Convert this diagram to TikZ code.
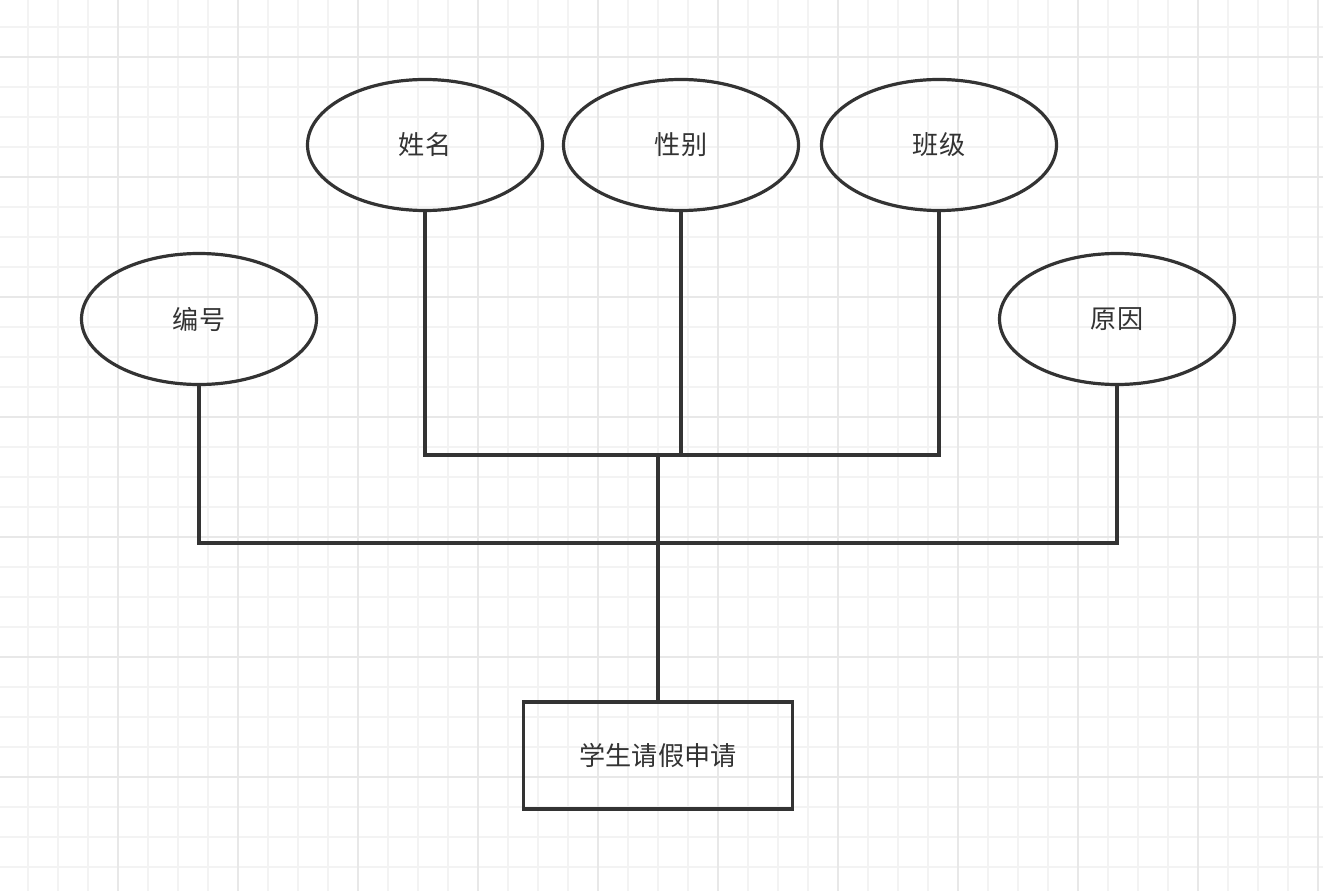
\documentclass[tikz,border=0pt]{standalone}
\usepackage{fontspec}
\newfontfamily\cjk{Noto Sans CJK SC}
\usetikzlibrary{shapes.geometric}
\definecolor{ink}{HTML}{333333}
\definecolor{gridminor}{HTML}{F3F3F3}
\definecolor{gridmajor}{HTML}{E8E8E8}
\tikzset{
  attr/.style={ellipse, draw=ink, line width=2.4pt, minimum width=235*0.75pt, minimum height=131*0.75pt, inner sep=0pt, font=\cjk\fontsize{19.6}{19.6}\selectfont, text=ink},
  entity/.style={rectangle, draw=ink, line width=2.4pt, minimum width=269*0.75pt, minimum height=107*0.75pt, inner sep=0pt, font=\cjk\fontsize{19.6}{19.6}\selectfont, text=ink},
  link/.style={draw=ink, line width=2.4pt}
}
\begin{document}
\begin{tikzpicture}[x=0.75pt,y=-0.75pt]
\useasboundingbox (0,0) rectangle (1323,891);
\fill[white] (0,0) rectangle (1323,891);
% minor grid
\foreach \gx in {28,58,...,1323} \draw[gridminor, line width=1.5pt] (\gx,0) -- (\gx,891);
\foreach \gy in {27,57,...,891} \draw[gridminor, line width=1.5pt] (0,\gy) -- (1323,\gy);
% major grid
\foreach \gx in {118,238,...,1323} \draw[gridmajor, line width=1.5pt] (\gx,0) -- (\gx,891);
\foreach \gy in {57,177,...,891} \draw[gridmajor, line width=1.5pt] (0,\gy) -- (1323,\gy);
% nodes
\node[attr] (xm) at (425,145) {姓名};
\node[attr] (xb) at (681,145) {性别};
\node[attr] (bj) at (939,145) {班级};
\node[attr] (bh) at (199,319) {编号};
\node[attr] (yy) at (1117,319) {原因};
\node[entity] (sq) at (658,755.5) {学生请假申请};
\coordinate (j1) at (658,455);
\coordinate (j2) at (658,543);
% connectors
\draw[link] (xm.south) |- (j1);
\draw[link] (bj.south) |- (j1);
\draw[link] (xb.south) -- (xb.south |- j1);
\draw[link] (bh.south) |- (j2);
\draw[link] (yy.south) |- (j2);
\draw[link] (j1) -- (sq.north);
\end{tikzpicture}
\end{document}
